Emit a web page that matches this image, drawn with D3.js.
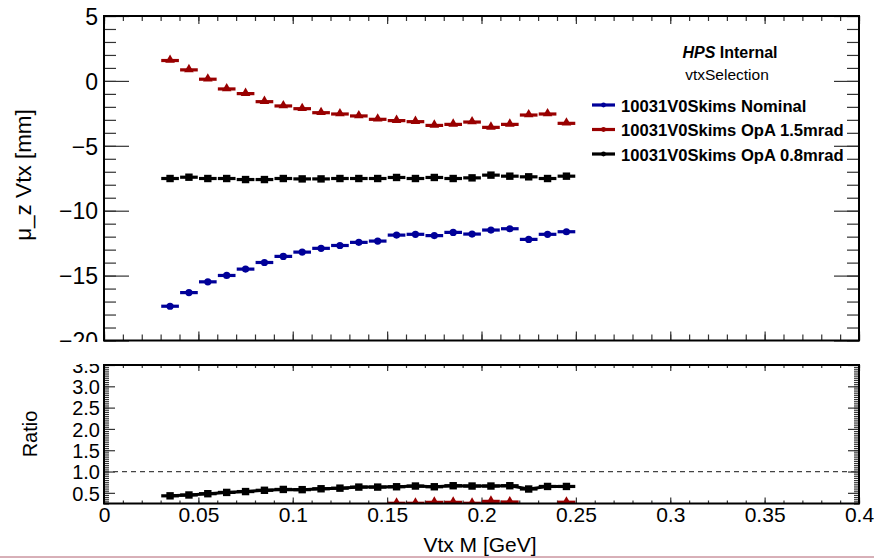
<!DOCTYPE html>
<html>
<head>
<meta charset="utf-8">
<script src="https://cdn.jsdelivr.net/npm/d3@7"></script>
<style>
  body { margin: 0; background: #fff; }
  text { font-family: "Liberation Sans", Arial, Helvetica, sans-serif; }
</style>
</head>
<body>
<script>
'use strict';

// bin centres, 0.01 GeV wide bins
const binCentres = [0.035, 0.045, 0.055, 0.065, 0.075, 0.085, 0.095, 0.105, 0.115, 0.125, 0.135,
  0.145, 0.155, 0.165, 0.175, 0.185, 0.195, 0.205, 0.215, 0.225, 0.235, 0.245];
const binWidth = 0.01;

const nominal = [-17.36, -16.31, -15.48, -14.99, -14.5, -13.99, -13.52, -13.19, -12.9, -12.68, -12.44,
  -12.34, -11.88, -11.82, -11.92, -11.67, -11.8, -11.49, -11.39, -12.21, -11.82, -11.62];
const opa15 = [1.57, 0.85, 0.13, -0.62, -0.98, -1.6, -1.93, -2.14, -2.45, -2.55, -2.7,
  -2.96, -3.06, -3.14, -3.43, -3.35, -3.17, -3.58, -3.35, -2.63, -2.55, -3.27];
const opa08 = [-7.52, -7.42, -7.52, -7.52, -7.6, -7.6, -7.52, -7.55, -7.55, -7.52, -7.52,
  -7.52, -7.44, -7.52, -7.44, -7.52, -7.47, -7.26, -7.34, -7.39, -7.52, -7.34];

// ratio to nominal (null = off scale)
const ratio15 = [null, null, null, null, null, null, null, null, null, null, null,
  null, 0.255, 0.255, 0.277, 0.277, 0.255, 0.30, 0.285, null, null, 0.28];
const ratio08 = [0.43, 0.45, 0.48, 0.51, 0.53, 0.56, 0.58, 0.575, 0.596, 0.61, 0.635,
  0.635, 0.643, 0.66, 0.643, 0.667, 0.66, 0.66, 0.667, 0.59, 0.65, 0.65];

const seriesNames = ['10031V0Skims Nominal', '10031V0Skims OpA 1.5mrad', '10031V0Skims OpA 0.8mrad'];
const seriesColors = ['#000099', '#990000', '#000000'];
const seriesMarkers = ['circle', 'triangle', 'square'];

const xTicks = [0, 0.05, 0.1, 0.15, 0.2, 0.25, 0.3, 0.35, 0.4];
const xTickLabels = ['0', '0.05', '0.1', '0.15', '0.2', '0.25', '0.3', '0.35', '0.4'];
const yTopTicks = [-20, -15, -10, -5, 0, 5];
const yBotTicks = [0.5, 1.0, 1.5, 2.0, 2.5, 3.0, 3.5];

const width = 874;
const height = 558;

let x = d3.scaleLinear().domain([0, 0.4]).range([104, 859]);
let yTop = d3.scaleLinear().domain([-20, 5]).range([340.5, 16]);
let yBot = d3.scaleLinear().domain([0.25, 3.5]).range([503.5, 365]);

let svg = d3.select('body').append('svg')
    .attr('width', width)
    .attr('height', height);

let defs = svg.append('defs');
defs.append('clipPath').attr('id', 'clipTopPad')
  .append('rect').attr('x', 0).attr('y', 0).attr('width', width).attr('height', 342);
defs.append('clipPath').attr('id', 'clipBotPad')
  .append('rect').attr('x', 0).attr('y', 364).attr('width', width).attr('height', height - 364);
defs.append('clipPath').attr('id', 'clipBotFrame')
  .append('rect').attr('x', 104).attr('y', 365).attr('width', 755).attr('height', 139);

let topPad = svg.append('g').attr('clip-path', 'url(#clipTopPad)');
let botPad = svg.append('g').attr('clip-path', 'url(#clipBotPad)');

function range(a, b, step) {
  return d3.range(Math.round((b - a) / step) + 1).map(i => +(a + i * step).toFixed(4));
}

function drawAxis(g, axis, transform, labelSize) {
  let a = g.append('g').attr('transform', transform).call(axis);
  a.select('.domain').remove();
  a.selectAll('.tick line').attr('stroke', '#333').attr('stroke-width', 1.2);
  a.selectAll('.tick text').attr('fill', '#000').style('font-size', labelSize + 'px');
  return a;
}

function marker(g, type, cx, cy, color) {
  if (type === 'circle') {
    g.append('circle').attr('cx', cx).attr('cy', cy).attr('r', 3.6).attr('fill', color);
  } else if (type === 'triangle') {
    g.append('path').attr('d', d3.symbol(d3.symbolTriangle, 40)()).attr('fill', color)
      .attr('transform', 'translate(' + cx + ',' + (cy - 0.5) + ')');
  } else {
    g.append('rect').attr('x', cx - 3.7).attr('y', cy - 3.7).attr('width', 7.4).attr('height', 7.4).attr('fill', color);
  }
}

function drawSeries(g, values, y, color, type) {
  binCentres.forEach(function (c, i) {
    let v = values[i];
    if (v === null) return;
    g.append('line')
      .attr('x1', x(c - binWidth / 2) + 0.6)
      .attr('x2', x(c + binWidth / 2) - 0.6)
      .attr('y1', y(v)).attr('y2', y(v))
      .attr('stroke', color).attr('stroke-width', 3.2);
    marker(g, type, x(c), y(v), color);
  });
}

// ---- top pad ----
let xMinor = range(0, 0.4, 0.01);
drawAxis(topPad, d3.axisBottom(x).tickValues(xMinor).tickSize(-6).tickFormat(''), 'translate(0,340.5)', 0);
drawAxis(topPad, d3.axisBottom(x).tickValues(xTicks).tickSize(-9).tickFormat(''), 'translate(0,340.5)', 0);
drawAxis(topPad, d3.axisTop(x).tickValues(xMinor).tickSize(-5).tickFormat(''), 'translate(0,16)', 0);
drawAxis(topPad, d3.axisTop(x).tickValues(xTicks).tickSize(-8).tickFormat(''), 'translate(0,16)', 0);

let yTopMinor = range(-20, 5, 1);
drawAxis(topPad, d3.axisLeft(yTop).tickValues(yTopMinor).tickSize(-12).tickFormat(''), 'translate(104,0)', 0);
drawAxis(topPad, d3.axisLeft(yTop).tickValues(yTopTicks).tickSize(-25).tickPadding(6)
  .tickFormat(d => d < 0 ? '\u2212' + Math.abs(d) : String(d)), 'translate(104,0)', 23)
  .selectAll('.tick text').attr('dy', '0.36em');
drawAxis(topPad, d3.axisRight(yTop).tickValues(yTopMinor).tickSize(-12).tickFormat(''), 'translate(859,0)', 0);
drawAxis(topPad, d3.axisRight(yTop).tickValues(yTopTicks).tickSize(-25).tickFormat(''), 'translate(859,0)', 0);

topPad.append('rect')
  .attr('x', x(0)).attr('y', yTop(5))
  .attr('width', x(0.4) - x(0)).attr('height', yTop(-20) - yTop(5))
  .attr('fill', 'none').attr('stroke', '#000').attr('stroke-width', 2);

let topData = topPad.append('g');
drawSeries(topData, nominal, yTop, seriesColors[0], seriesMarkers[0]);
drawSeries(topData, opa15, yTop, seriesColors[1], seriesMarkers[1]);
drawSeries(topData, opa08, yTop, seriesColors[2], seriesMarkers[2]);

topPad.append('text')
  .attr('transform', 'translate(31,175) rotate(-90)')
  .attr('text-anchor', 'middle')
  .style('font-size', '22.5px')
  .text('\u03bc_z Vtx [mm]');

// header and legend
let head = topPad.append('text')
  .attr('x', 730).attr('y', 58)
  .attr('text-anchor', 'middle')
  .style('font-size', '16px').style('font-weight', 'bold');
head.append('tspan').style('font-style', 'italic').text('HPS');
head.append('tspan').text(' Internal');

topPad.append('text')
  .attr('x', 727).attr('y', 80)
  .attr('text-anchor', 'middle')
  .style('font-size', '15.5px')
  .text('vtxSelection');

seriesNames.forEach(function (name, i) {
  let ly = 105 + i * 24.5;
  topPad.append('line')
    .attr('x1', 592).attr('x2', 615).attr('y1', ly).attr('y2', ly)
    .attr('stroke', seriesColors[i]).attr('stroke-width', 3.2);
  topPad.append('circle').attr('cx', 603.5).attr('cy', ly).attr('r', 2.4).attr('fill', seriesColors[i]);
  topPad.append('text')
    .attr('x', 621).attr('y', ly + 6.5)
    .style('font-size', '16.6px').style('font-weight', 'bold')
    .text(name);
});

// ---- bottom pad ----
drawAxis(botPad, d3.axisBottom(x).tickValues(xMinor).tickSize(-3).tickFormat(''), 'translate(0,503.5)', 0);
drawAxis(botPad, d3.axisBottom(x).tickValues(xTicks).tickSize(-6).tickPadding(4)
  .tickFormat((d, i) => xTickLabels[i]), 'translate(0,503.5)', 21);
drawAxis(botPad, d3.axisTop(x).tickValues(xMinor).tickSize(-3).tickFormat(''), 'translate(0,365)', 0);
drawAxis(botPad, d3.axisTop(x).tickValues(xTicks).tickSize(-6).tickFormat(''), 'translate(0,365)', 0);

let yBotMinor = range(0.25, 3.5, 0.05);
drawAxis(botPad, d3.axisLeft(yBot).tickValues(yBotMinor).tickSize(-5).tickFormat(''), 'translate(104,0)', 0);
drawAxis(botPad, d3.axisLeft(yBot).tickValues(yBotTicks).tickSize(-11).tickPadding(4)
  .tickFormat(d3.format('.1f')), 'translate(104,0)', 20)
  .selectAll('.tick text').attr('dy', '0.36em');
drawAxis(botPad, d3.axisRight(yBot).tickValues(yBotMinor).tickSize(-5).tickFormat(''), 'translate(859,0)', 0);
drawAxis(botPad, d3.axisRight(yBot).tickValues(yBotTicks).tickSize(-11).tickFormat(''), 'translate(859,0)', 0);

botPad.append('line')
  .attr('x1', x(0)).attr('x2', x(0.4))
  .attr('y1', yBot(1)).attr('y2', yBot(1))
  .attr('stroke', '#444').attr('stroke-width', 1.3)
  .attr('stroke-dasharray', '5,4');

let botData = botPad.append('g').attr('clip-path', 'url(#clipBotFrame)');
let ratioLine = d3.line()
  .defined(d => d[1] !== null)
  .x(d => x(d[0]))
  .y(d => yBot(d[1]));
botData.append('path')
  .attr('d', ratioLine(binCentres.map((c, i) => [c, ratio08[i]])))
  .attr('fill', 'none').attr('stroke', seriesColors[2]).attr('stroke-width', 3);
drawSeries(botData, ratio15, yBot, seriesColors[1], seriesMarkers[1]);
drawSeries(botData, ratio08, yBot, seriesColors[2], seriesMarkers[2]);

botPad.append('rect')
  .attr('x', x(0)).attr('y', yBot(3.5))
  .attr('width', x(0.4) - x(0)).attr('height', yBot(0.25) - yBot(3.5))
  .attr('fill', 'none').attr('stroke', '#000').attr('stroke-width', 2);

botPad.append('text')
  .attr('transform', 'translate(37,434) rotate(-90)')
  .attr('text-anchor', 'middle')
  .style('font-size', '20px')
  .text('Ratio');

botPad.append('text')
  .attr('x', 480).attr('y', 552)
  .attr('text-anchor', 'middle')
  .style('font-size', '21px')
  .text('Vtx M [GeV]');

svg.append('line')
  .attr('x1', 0).attr('x2', width).attr('y1', 557).attr('y2', 557)
  .attr('stroke', '#b06070').attr('stroke-width', 1);
</script>
</body>
</html>
